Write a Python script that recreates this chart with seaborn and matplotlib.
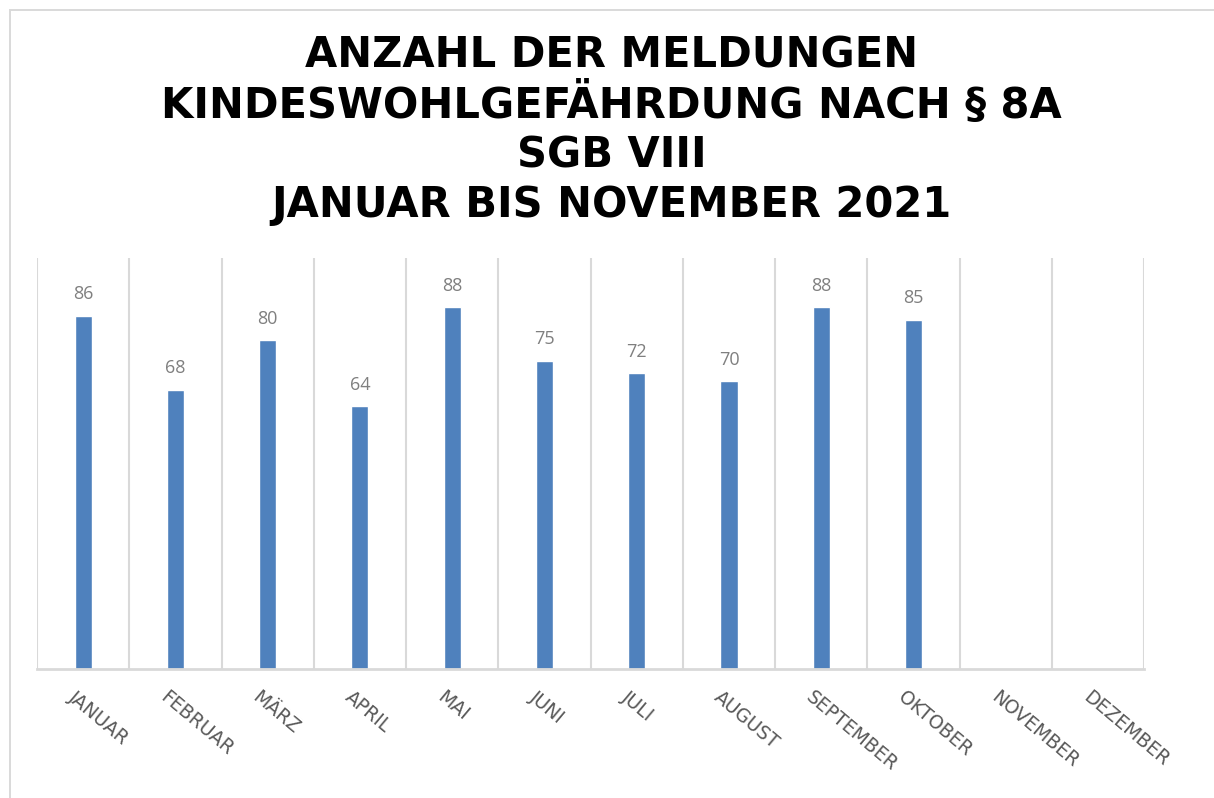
import pandas as pd
import numpy as np
import matplotlib.pyplot as plt
import seaborn as sns
from matplotlib.patches import Rectangle

sns.set_theme(style='white')
plt.rcParams['font.family'] = ['DejaVu Sans']

# Data
months = ['JANUAR', 'FEBRUAR', 'MÄRZ', 'APRIL', 'MAI', 'JUNI', 'JULI',
          'AUGUST', 'SEPTEMBER', 'OKTOBER', 'NOVEMBER', 'DEZEMBER']
reported_months = months[:10]
counts = [86, 68, 80, 64, 88, 75, 72, 70, 88, 85]

df = pd.DataFrame({'monat': reported_months, 'anzahl': counts})

fig = plt.figure(figsize=(12.14, 7.98), dpi=100)
ax = fig.add_axes([0.0305, 0.1617, 0.912, 0.515])

# light frame around the chart area (runs off the right and bottom edge)
fig.patches.append(Rectangle((10 / 1214, -0.2), 1.2, 1.2 - 10 / 798 + 0.0005,
                             transform=fig.transFigure, fill=False,
                             edgecolor='#d9d9d9', linewidth=1.4))

sns.barplot(data=df, x='monat', y='anzahl', order=months, color='#4f81bd',
            saturation=1, width=0.185, ax=ax)

for i, v in enumerate(counts):
    ax.text(i, v + 3.0, str(v), ha='center', va='bottom', fontsize=13,
            color='#7f7f7f', family=['Open Sans', 'DejaVu Sans'])

ax.set_ylim(0, 100)
ax.set_xlim(-0.5, len(months) - 0.5)
ax.set_yticks([])
ax.set_xlabel('')
ax.set_ylabel('')

# vertical gridlines between categories
ax.set_xticks(np.arange(-0.5, len(months)), minor=True)
ax.grid(which='minor', axis='x', color='#d9d9d9', linewidth=1.5)
ax.tick_params(axis='x', which='both', length=0)
ax.set_xticks(range(len(months)))
ax.set_xticklabels([])
for i, m in enumerate(months):
    ax.text(i - 0.07, -4.5, m, rotation=-40, rotation_mode='anchor',
            ha='left', va='top', fontsize=13.5, color='#595959',
            family=['DejaVu Sans'])

for s in ['top', 'left', 'right']:
    ax.spines[s].set_visible(False)
ax.spines['bottom'].set_color('#d9d9d9')
ax.spines['bottom'].set_linewidth(2)

title_lines = ['ANZAHL DER MELDUNGEN',
               'KINDESWOHLGEFÄHRDUNG NACH § 8A',
               'SGB VIII',
               'JANUAR BIS NOVEMBER 2021']
for k, line in enumerate(title_lines):
    fig.text(0.504, 1 - (55 + k * 50) / 798, line, ha='center', va='center',
             fontsize=30, fontweight='bold', color='black',
             family=['DejaVu Sans'])

plt.savefig('out.png', dpi=100)
